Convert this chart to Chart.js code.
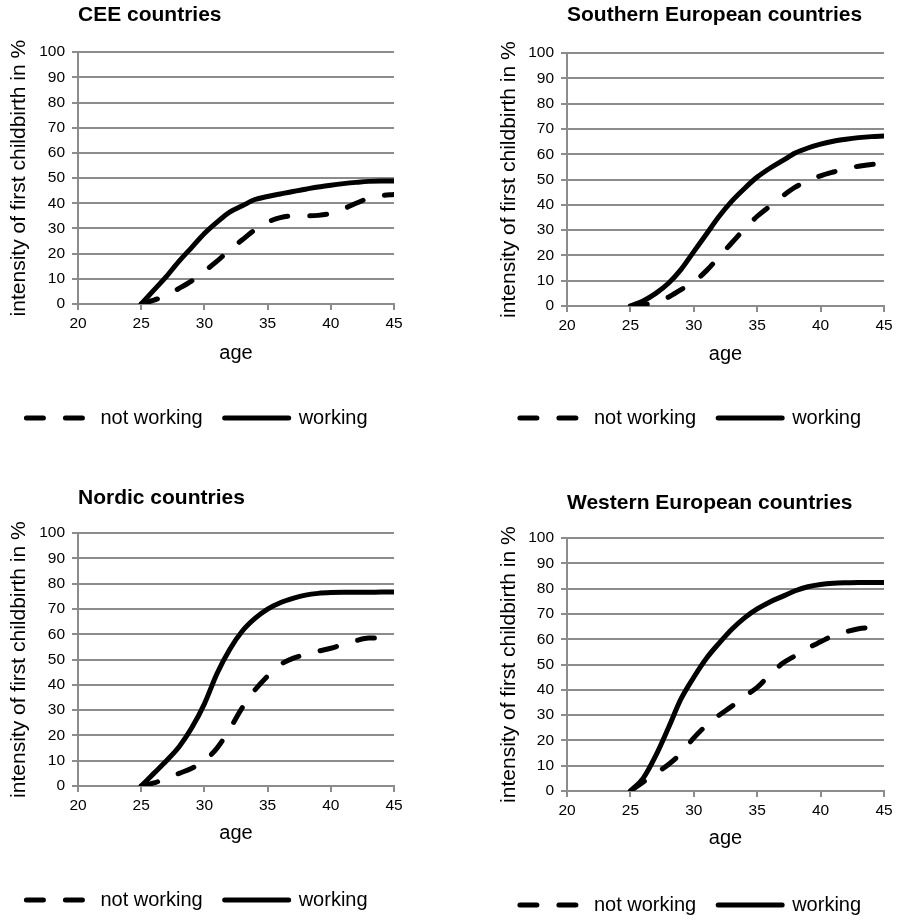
<!DOCTYPE html>
<html>
<head>
<meta charset="utf-8">
<script src="https://cdn.jsdelivr.net/npm/chart.js@4.4.1/dist/chart.umd.min.js"></script>
<style>
  html, body { margin: 0; padding: 0; background: #fff; overflow: hidden; }
  body { width: 898px; height: 916px; position: relative; }
  canvas { position: absolute; }
</style>
</head>
<body>
<canvas id="cee" width="449" height="458" style="left:0;top:0"></canvas>
<canvas id="south" width="449" height="458" style="left:449px;top:0"></canvas>
<canvas id="nordic" width="449" height="480" style="left:0;top:458px"></canvas>
<canvas id="west" width="449" height="480" style="left:449px;top:458px"></canvas>
<script>
/* ages shown on the x axis */
const ages = [25, 26, 27, 28, 29, 30, 31, 32, 33, 34, 35, 36, 37, 38, 39, 40, 41, 42, 43, 44, 45];

/* intensity of first childbirth in % */
const ceeNotWorking      = [0, 1.5, 3.5, 6.2, 9.2, 13, 17, 21.5, 25.5, 29.5, 32.5, 34.3, 35, 35, 35.2, 36, 37.8, 40, 42, 43, 43.5];
const ceeWorking         = [0, 5.5, 11, 17, 22.5, 28, 32.5, 36.5, 39, 41.5, 42.7, 43.7, 44.7, 45.6, 46.5, 47.2, 47.8, 48.3, 48.7, 48.8, 48.8];
const southNotWorking    = [0, 0.5, 1.5, 3.5, 6.5, 9.5, 14, 19.5, 25, 30.5, 35.5, 39.5, 43.5, 47, 49.5, 51.5, 53, 54.3, 55.3, 56, 56.3];
const southWorking       = [0, 2, 5, 9, 14.5, 21.5, 28.5, 35.5, 41.5, 46.5, 51, 54.5, 57.5, 60.5, 62.5, 64, 65.2, 66, 66.6, 67, 67.2];
const nordicNotWorking   = [0, 1.2, 3, 5, 7, 10, 15, 22.5, 31, 38, 43.5, 48, 50.5, 52, 53.3, 54.5, 56, 57.5, 58.5, 58.5, 58.5];
const nordicWorking      = [0, 5, 10, 15.5, 23, 32.5, 44.5, 54, 61.3, 66.3, 70, 72.5, 74.2, 75.5, 76.2, 76.5, 76.6, 76.6, 76.6, 76.7, 76.7];
const westNotWorking     = [0, 3.5, 7, 10.5, 15, 21, 26, 30, 33.5, 37.5, 41, 46, 50.5, 53.5, 56.5, 59, 61.5, 63, 64.2, 64.7, 65];
const westWorking        = [0, 5, 14, 25, 36.5, 45, 52.5, 58.5, 64, 68.5, 72, 74.8, 77, 79.2, 80.8, 81.7, 82.2, 82.4, 82.5, 82.5, 82.5];

const seriesNames = ['not working', 'working'];

const FONT = "'Liberation Sans', Arial, sans-serif";
const GRID = '#8c8c8c';

/* panel placement inside each canvas */
const panels = [
  { id: 'cee', title: 'CEE countries', notWorking: ceeNotWorking, working: ceeWorking,
    padL: 0, padR: 55, padB: 20, titlePad: { top: 3, bottom: 24 }, yWidth: 78, yTitleTop: 7, xHeight: 82, xTitleBottom: 21 },
  { id: 'south', title: 'Southern European countries', notWorking: southNotWorking, working: southWorking,
    padL: 48, padR: 14, padB: 20, titlePad: { top: 3, bottom: 25 }, yWidth: 70, yTitleTop: 0, xHeight: 80, xTitleBottom: 20 },
  { id: 'nordic', title: 'Nordic countries', notWorking: nordicNotWorking, working: nordicWorking,
    padL: 0, padR: 55, padB: 18, titlePad: { top: 28, bottom: 22 }, yWidth: 78, yTitleTop: 7, xHeight: 82, xTitleBottom: 23 },
  { id: 'west', title: 'Western European countries', notWorking: westNotWorking, working: westWorking,
    padL: 48, padR: 14, padB: 13, titlePad: { top: 33, bottom: 22 }, yWidth: 70, yTitleTop: 0, xHeight: 82, xTitleBottom: 23 }
];

function toPoints(values) {
    return ages.map((a, i) => ({ x: a, y: values[i] }));
}

/* legend samples: keep the dataset's dash pattern */
function legendLabels(chart) {
    const items = Chart.defaults.plugins.legend.labels.generateLabels(chart);
    items.forEach((item) => {
        const ds = chart.data.datasets[item.datasetIndex];
        item.lineDash = ds.borderDash || [];
        item.lineCap = 'round';
        item.lineWidth = ds.borderWidth;
    });
    return items;
}

function createPanel(p) {
    const el = document.getElementById(p.id);
    return new Chart(el, {
        type: 'line',
        data: {
            datasets: [
                {
                    label: seriesNames[0],
                    data: toPoints(p.notWorking),
                    borderColor: '#000',
                    backgroundColor: '#000',
                    borderWidth: 5,
                    borderDash: [17, 22],
                    borderCapStyle: 'round',
                    pointRadius: 0,
                    cubicInterpolationMode: 'monotone'
                },
                {
                    label: seriesNames[1],
                    data: toPoints(p.working),
                    borderColor: '#000',
                    backgroundColor: '#000',
                    borderWidth: 5,
                    borderCapStyle: 'round',
                    pointRadius: 0,
                    cubicInterpolationMode: 'monotone'
                }
            ]
        },
        options: {
            responsive: false,
            animation: false,
            layout: { padding: { left: p.padL, right: p.padR, top: 0, bottom: p.padB } },
            plugins: {
                tooltip: { enabled: false },
                title: {
                    display: true,
                    text: p.title,
                    align: 'start',
                    fullSize: false,
                    color: '#000',
                    font: { family: FONT, size: 21, weight: 'bold' },
                    padding: p.titlePad
                },
                legend: {
                    position: 'bottom',
                    labels: {
                        usePointStyle: true,
                        pointStyle: 'line',
                        pointStyleWidth: 64,
                        color: '#000',
                        padding: 22,
                        font: { family: FONT, size: 20 },
                        generateLabels: legendLabels
                    }
                }
            },
            scales: {
                x: {
                    type: 'linear',
                    min: 20,
                    max: 45,
                    afterFit: (s) => { s.height = p.xHeight; },
                    ticks: { stepSize: 5, autoSkip: false, padding: 4, color: '#000', font: { family: FONT, size: 15.5 } },
                    grid: { drawOnChartArea: false, drawTicks: true, tickLength: 6, color: GRID, lineWidth: 2 },
                    border: { display: true, color: GRID, width: 2 },
                    title: { display: true, text: 'age', color: '#000', font: { family: FONT, size: 20 },
                             padding: { top: 0, bottom: p.xTitleBottom } }
                },
                y: {
                    min: 0,
                    max: 100,
                    afterFit: (s) => { s.width = p.yWidth; },
                    ticks: { stepSize: 10, autoSkip: false, padding: 7, color: '#000', font: { family: FONT, size: 15.5 } },
                    grid: { drawTicks: true, tickLength: 6, color: GRID, lineWidth: 2 },
                    border: { display: true, color: GRID, width: 2 },
                    title: { display: true, text: 'intensity of first childbirth in %', color: '#000',
                             font: { family: FONT, size: 21 }, padding: { top: p.yTitleTop, bottom: 0 } }
                }
            }
        }
    });
}

panels.forEach(createPanel);
</script>
</body>
</html>
